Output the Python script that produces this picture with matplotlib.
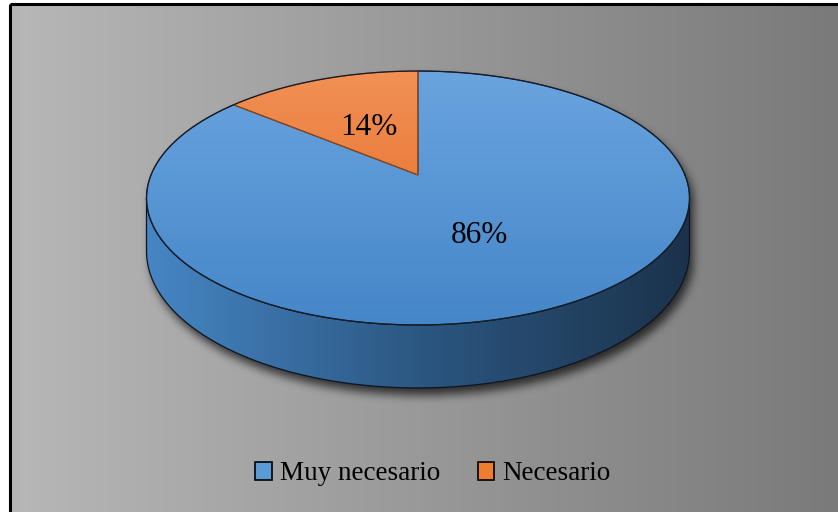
import numpy as np
import matplotlib
matplotlib.use("Agg")
import matplotlib.pyplot as plt
from matplotlib.patches import Polygon, Rectangle, Patch
from matplotlib.path import Path

labels = ["Muy necesario", "Necesario"]
values = [86, 14]
pct_text = ["86%", "14%"]
# top face gradient (top colour, bottom colour) per slice
top_colors = [("#6aa4df", "#4586c8"), ("#f29055", "#e0661b")]
legend_colors = ["#5b9bd5", "#ed7d31"]
edge_colors = ["#1f2f40", "#9a4a14"]
label_r = [0.5, 0.46]

W, H = 838, 512
CX, CY = 418, 175      # pie centre on screen (px)
RX, RY = 267, 122.8    # radii
K = 0.181              # perspective
DEPTH = 51.6           # thickness


def project(theta, drop=0.0, r=1.0):
    th = np.radians(theta)
    u, v = r * np.cos(th), r * np.sin(th)
    w = 1 + K * v
    return CX + RX * u / w, CY - RY * v / w + drop / w


def hex2rgb(h):
    return np.array([int(h[i:i + 2], 16) for i in (1, 3, 5)]) / 255.0


def blur(a, n=9, reps=3):
    k = np.ones(n) / n
    for _ in range(reps):
        a = np.apply_along_axis(lambda r: np.convolve(r, k, mode="same"), 1, a)
        a = np.apply_along_axis(lambda c: np.convolve(c, k, mode="same"), 0, a)
    return a


fig = plt.figure(figsize=(W / 100, H / 100), dpi=100)
fig.patch.set_facecolor("white")
ax = fig.add_axes([0, 0, 1, 1])
ax.set_xlim(0, W)
ax.set_ylim(H, 0)
ax.axis("off")

# background gradient + border
xs = np.arange(W)
g = (184 - 62 * xs / W) / 255.0
bg = np.dstack([np.tile(g, (H, 1))] * 3)
frame = Rectangle((10, 4), W, H, facecolor="none", edgecolor="black", lw=2.2, zorder=5)
ax.add_patch(frame)
im = ax.imshow(bg, extent=(0, W, H, 0), origin="upper", zorder=0)
clip = Rectangle((10, 4), W, H, transform=ax.transData)
im.set_clip_path(clip)

# side of the pie (front half)
a_edge = np.degrees(np.arcsin(K))
th_side = np.linspace(180 + a_edge, 360 - a_edge, 300)
tx, ty = project(th_side)
bx, by = project(th_side, DEPTH)
side_xy = np.column_stack([np.concatenate([tx, bx[::-1]]), np.concatenate([ty, by[::-1]])])

ell_th = np.linspace(0, 360, 400)
ex, ey = project(ell_th)
top_xy = np.column_stack([ex, ey])

# soft shadow
gx, gy = np.meshgrid(np.arange(W) + 0.5, np.arange(H) + 0.5)
pts = np.column_stack([gx.ravel() - 4, gy.ravel() - 7])
mask = Path(side_xy).contains_points(pts) | Path(top_xy).contains_points(pts)
mask = blur(mask.reshape(H, W).astype(float))
shadow = np.zeros((H, W, 4))
shadow[..., 3] = 0.7 * mask
ax.imshow(shadow, extent=(0, W, H, 0), origin="upper", zorder=1)

# side gradient (left light blue -> right dark navy)
stops = [hex2rgb("#4686c4"), hex2rgb("#2c5782"), hex2rgb("#1b324b")]
t = np.clip((xs - tx.min()) / (tx.max() - tx.min()), 0, 1)
side_rgb = np.empty((W, 3))
for c in range(3):
    side_rgb[:, c] = np.interp(t, [0, 0.5, 1], [stops[0][c], stops[1][c], stops[2][c]])
side_img = np.tile(side_rgb[None, :, :], (H, 1, 1))
side_patch = Polygon(side_xy, closed=True, facecolor="none", edgecolor="#0d1520", lw=0.9, zorder=3)
ax.add_patch(side_patch)
sim = ax.imshow(side_img, extent=(0, W, H, 0), origin="upper", zorder=2)
sim.set_clip_path(side_patch)

# top face slices
fracs = np.array(values) / sum(values)
ys = np.arange(H)
y_top, y_bot = ey.min(), ey.max()
a0 = 90.0
for i, f in enumerate(fracs):
    a1 = a0 - 360 * f
    arc = np.linspace(a0, a1, 300)
    px, py = project(arc)
    poly = np.column_stack([np.concatenate([[CX], px]), np.concatenate([[CY], py])])
    patch = Polygon(poly, closed=True, facecolor="none", edgecolor=edge_colors[i], lw=0.8, zorder=5)
    ax.add_patch(patch)
    c_top, c_bot = hex2rgb(top_colors[i][0]), hex2rgb(top_colors[i][1])
    tt = np.clip((ys - y_top) / (y_bot - y_top), 0, 1)[:, None]
    col = c_top * (1 - tt) + c_bot * tt
    img = np.tile(col[:, None, :], (1, W, 1))
    tim = ax.imshow(img, extent=(0, W, H, 0), origin="upper", zorder=4)
    tim.set_clip_path(patch)
    lx, ly = project((a0 + a1) / 2, r=label_r[i])
    ax.text(lx, ly, pct_text[i], ha="center", va="center", fontsize=22.5,
            family="Liberation Serif", color="black", zorder=6)
    a0 = a1

ax.plot(ex, ey, color="#141c26", lw=0.9, zorder=5)

handles = [Patch(facecolor=legend_colors[i], edgecolor="black", lw=1.2, label=labels[i])
           for i in range(len(labels))]
fig.legend(handles=handles, loc="center", bbox_to_anchor=(433 / W, 1 - 474 / H), ncol=2,
           frameon=False, prop={"family": "Liberation Serif", "size": 19.5},
           handlelength=0.6, handleheight=0.6, handletextpad=0.3, columnspacing=1.4)

fig.savefig("out.png", dpi=100)
